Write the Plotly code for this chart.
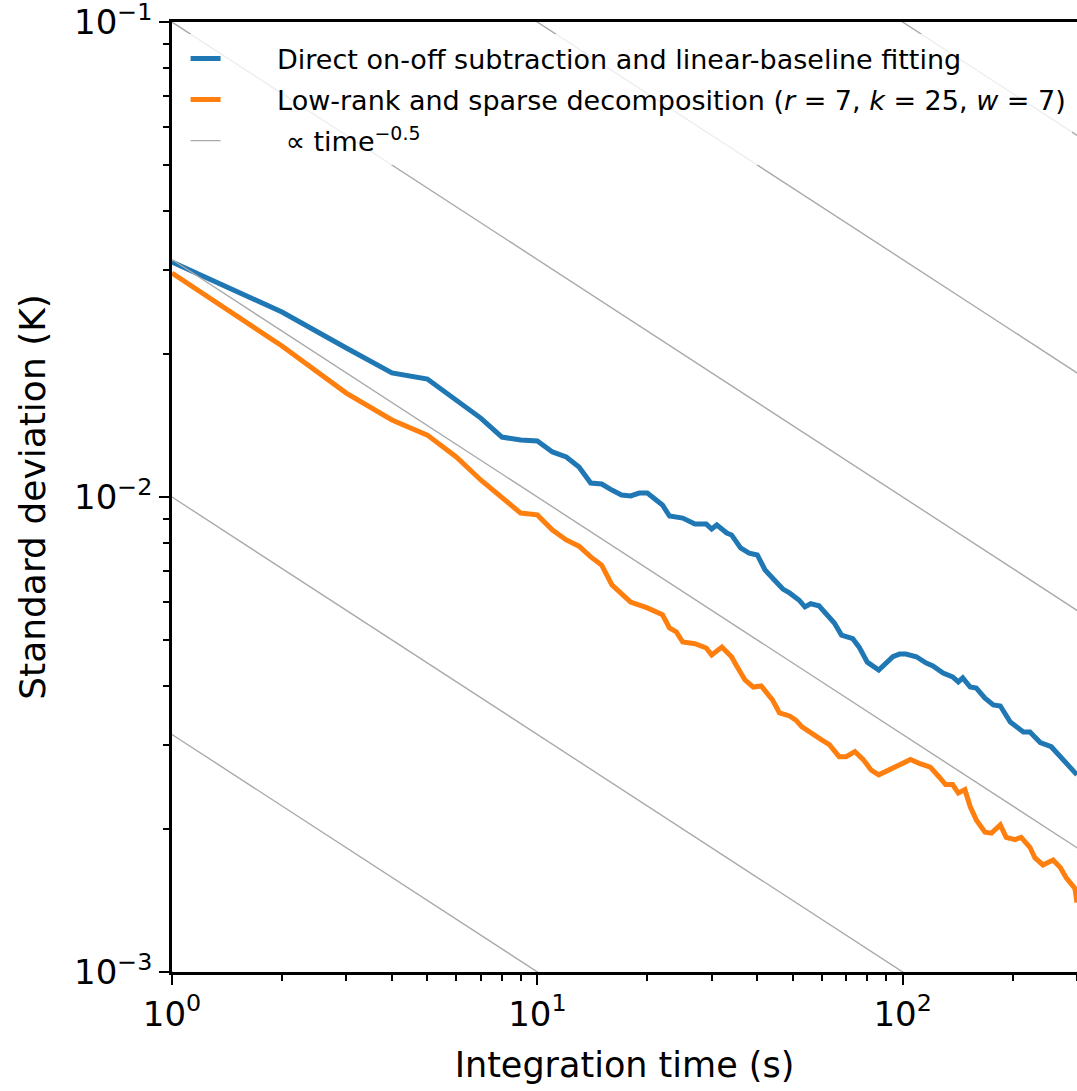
import plotly.graph_objects as go

# Integration time (s) and standard deviation (K) for the two reduction methods
t_direct = [1, 2, 3, 4, 5, 6, 7, 8, 9, 10, 11, 12, 13, 14, 15, 16, 17, 18, 19, 20,
            22, 23, 25, 27, 29, 30, 31, 33, 34, 36, 38, 40, 42, 45, 47, 49, 52, 54,
            56, 59, 61, 65, 68, 73, 76, 80, 86, 90, 94, 98, 102, 109, 116, 121, 129,
            137, 142, 146, 153, 159, 168, 177, 185, 197, 207, 214, 223, 230, 238,
            255, 270, 288, 300]
std_direct = [0.03124, 0.02452, 0.02059, 0.01825, 0.01772, 0.01600, 0.01466, 0.01337,
              0.01318, 0.01312, 0.01244, 0.01214, 0.01157, 0.01070, 0.01065, 0.01034,
              0.01010, 0.01005, 0.01019, 0.01019, 0.00962, 0.00912, 0.00903, 0.00877,
              0.00877, 0.00856, 0.00873, 0.00840, 0.00832, 0.00781, 0.00762, 0.00755,
              0.00702, 0.00663, 0.00640, 0.00628, 0.00607, 0.00587, 0.00596, 0.00590,
              0.00573, 0.00543, 0.00512, 0.00503, 0.00483, 0.00449, 0.00432, 0.00447,
              0.00461, 0.00467, 0.00467, 0.00461, 0.00447, 0.00441, 0.00426, 0.00418,
              0.00408, 0.00416, 0.00398, 0.00396, 0.00377, 0.00365, 0.00363, 0.00336,
              0.00325, 0.00320, 0.00320, 0.00312, 0.00304, 0.00298, 0.00284, 0.00270,
              0.00260]

t_lowrank = [1, 2, 3, 4, 5, 6, 7, 8, 9, 10, 11, 12, 13, 14, 15, 16, 18, 20, 22, 23,
             24, 25, 27, 29, 30, 32, 34, 35, 37, 39, 41, 44, 46, 49, 51, 53, 57, 60,
             63, 67, 70, 74, 78, 82, 86, 92, 98, 105, 111, 119, 126, 131, 137, 142,
             148, 153, 159, 168, 175, 185, 192, 203, 211, 223, 230, 242, 258, 270,
             280, 296, 300]
std_lowrank = [0.02962, 0.02079, 0.01655, 0.01453, 0.01350, 0.01214, 0.01086, 0.01000,
               0.00925, 0.00917, 0.00852, 0.00812, 0.00788, 0.00748, 0.00719, 0.00653,
               0.00601, 0.00584, 0.00565, 0.00530, 0.00520, 0.00495, 0.00491, 0.00481,
               0.00465, 0.00483, 0.00461, 0.00443, 0.00412, 0.00398, 0.00400, 0.00374,
               0.00351, 0.00346, 0.00339, 0.00328, 0.00315, 0.00308, 0.00301, 0.00284,
               0.00284, 0.00291, 0.00280, 0.00266, 0.00260, 0.00266, 0.00273, 0.00280,
               0.00275, 0.00270, 0.00257, 0.00248, 0.00248, 0.00238, 0.00242, 0.00223,
               0.00209, 0.00197, 0.00196, 0.00204, 0.00192, 0.00190, 0.00192, 0.00183,
               0.00174, 0.00168, 0.00172, 0.00166, 0.00158, 0.00150, 0.00140]

# Normalisations of the time^-0.5 guide lines (value at t = 1 s)
guide_norms = [10 ** -3, 10 ** -2.5, 10 ** -2, 10 ** -1.5, 10 ** -1, 10 ** -0.5, 1.0]
guide_t = [1, 1000]

x_ticks = [1, 10, 100]
x_ticktext = ["10<sup>0</sup>", "10<sup>1</sup>", "10<sup>2</sup>"]
y_ticks = [0.001, 0.01, 0.1]
y_ticktext = ["10<sup>−3</sup>", "10<sup>−2</sup>", "10<sup>−1</sup>"]
x_minor = [m * 10 ** e for e in range(0, 3) for m in range(2, 10)]
y_minor = [m * 10.0 ** e for e in (-3, -2) for m in range(2, 10)]

FONT = "DejaVu Sans"
PAD = "\u00a0" * 6  # gap between legend line sample and label

fig = go.Figure()

fig.add_trace(go.Scatter(
    x=t_direct, y=std_direct, mode="lines",
    line=dict(color="#1f77b4", width=5),
    name=PAD + "Direct on-off subtraction and linear-baseline fitting",
    legendgroup="direct",
))
fig.add_trace(go.Scatter(
    x=t_lowrank, y=std_lowrank, mode="lines",
    line=dict(color="#ff7f0e", width=5),
    name=PAD + "Low-rank and sparse decomposition (<i>r</i> = 7, <i>k</i> = 25, <i>w</i> = 7)",
    legendgroup="lowrank",
))
for i, c in enumerate(guide_norms):
    fig.add_trace(go.Scatter(
        x=guide_t, y=[c * t ** -0.5 for t in guide_t], mode="lines",
        line=dict(color="#aaaaaa", width=1.4),
        name=PAD + " ∝ time<sup>−0.5</sup>", legendgroup="guide",
        showlegend=(i == 0),
    ))

axis_common = dict(
    showgrid=False, zeroline=False, showline=True, linecolor="black", linewidth=2.5,
    ticks="outside", ticklen=10, tickwidth=2, tickcolor="black",
    ticklabeloverflow="allow", automargin=False,
)

fig.update_xaxes(
    type="log", range=[0, 2.4771], mirror=True,
    tickvals=x_ticks, ticktext=x_ticktext,
    tickfont=dict(family=FONT, size=34, color="black"),
    title=dict(text="Integration time (s)", font=dict(family=FONT, size=35, color="black"),
               standoff=20),
    minor=dict(tickvals=x_minor, ticks="outside", ticklen=6, tickwidth=1.5,
               tickcolor="black", showgrid=False),
    **axis_common,
)
fig.update_yaxes(
    type="log", range=[-3.0001, -0.9999],
    tickvals=y_ticks, ticktext=y_ticktext,
    tickfont=dict(family=FONT, size=34, color="black"),
    title=dict(text="Standard deviation (K)", font=dict(family=FONT, size=36, color="black"),
               standoff=18),
    minor=dict(tickvals=y_minor, ticks="outside", ticklen=6, tickwidth=1.5,
               tickcolor="black", showgrid=False),
    **axis_common,
)

fig.update_layout(
    width=1077, height=1091,
    margin=dict(l=172, r=0, t=22, b=119, autoexpand=False),
    plot_bgcolor="white", paper_bgcolor="white",
    font=dict(family=FONT, color="black"),
    legend=dict(
        x=0.015, y=0.987, xanchor="left", yanchor="top",
        bgcolor="rgba(255,255,255,0.8)", borderwidth=0,
        font=dict(family=FONT, size=27, color="black"),
        tracegroupgap=3,
    ),
    showlegend=True,
)

fig.write_html("out.html")
